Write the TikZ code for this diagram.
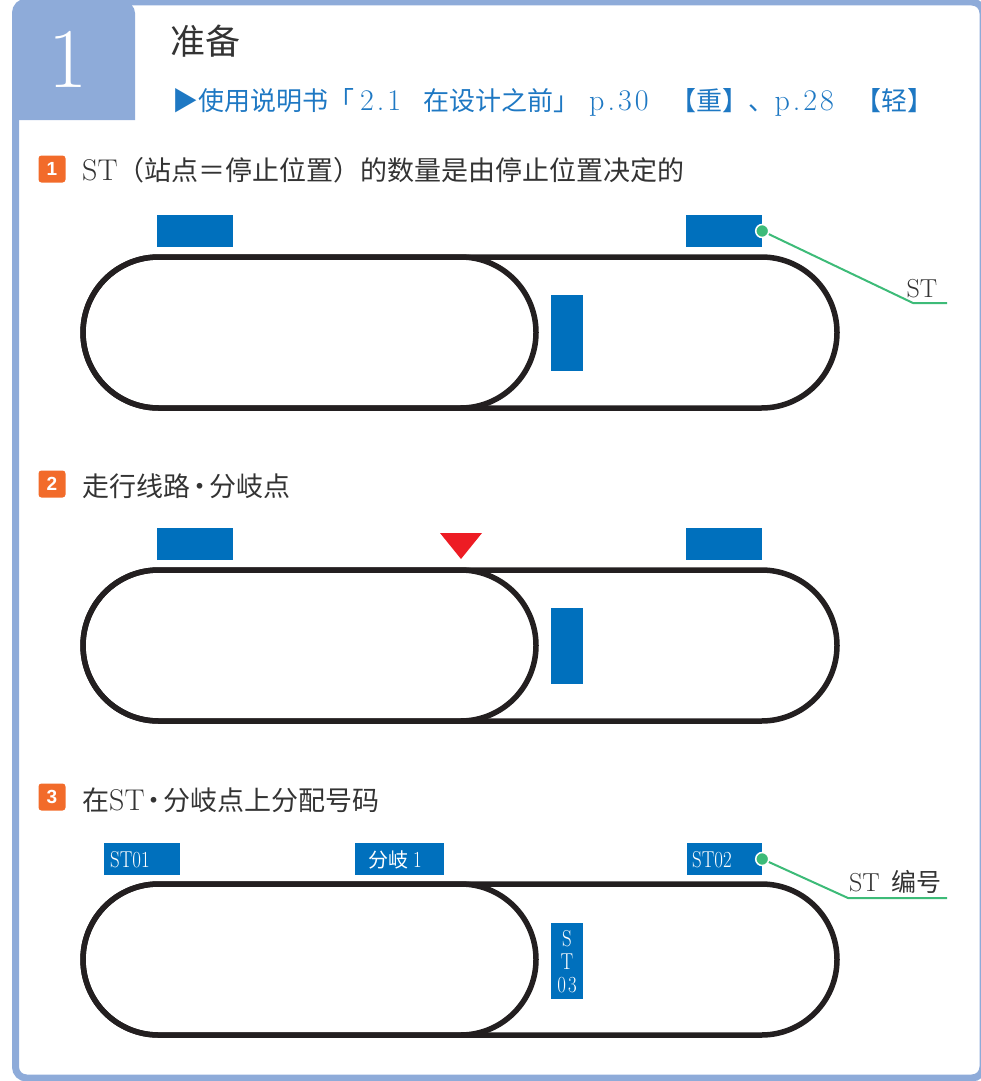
\documentclass[tikz,border=0pt]{standalone}
\usepackage{fontspec}
\newfontfamily\cjk{Noto Sans CJK SC}
\newfontfamily\lat{Latin Modern Roman}
\newfontfamily\cond[FakeStretch=0.82]{Latin Modern Roman}
\newfontfamily\sans{Liberation Sans}
\definecolor{frameblue}{HTML}{8EABD9}
\definecolor{stblue}{HTML}{0070BD}
\definecolor{linkblue}{HTML}{1E78C3}
\definecolor{badgeor}{HTML}{F26B2A}
\definecolor{leadgreen}{HTML}{3DBB78}
\definecolor{trackc}{HTML}{231F20}
\definecolor{txt}{HTML}{333333}
\definecolor{redtri}{HTML}{ED1C24}
\newcommand{\gp}[1]{\hspace{#1pt}}
\newcommand{\hl}[1]{{\lat\fontsize{30}{30}\selectfont #1}}
\newcommand{\md}{{\cjk\gp{-4}·\gp{-4}}}
\begin{document}
\begin{tikzpicture}[x=1pt,y=-1pt,
  track/.style={draw=trackc, line width=5.5},
  stbox/.style={fill=stblue, inner sep=0, draw=none},
  hbox/.style={stbox, minimum width=76, minimum height=32},
  vbox/.style={stbox, minimum width=32, minimum height=76},
  badge/.style={fill=badgeor, rounded corners=3, minimum size=27, inner sep=0, text=white, font=\sans\bfseries\fontsize{19}{19}\selectfont},
  head/.style={anchor=base west, inner sep=0, text=txt, font=\cjk\fontsize{27}{27}\selectfont},
  leader/.style={draw=leadgreen, line width=2},
  dot/.style={circle, fill=leadgreen, draw=white, line width=1.5, minimum size=13, inner sep=0},
  boxlabel/.style={anchor=base west, inner sep=0, text=white, font=\cond\fontsize{23}{23}\selectfont},
  lbl/.style={anchor=base, inner sep=0, text=txt, font=\lat\fontsize{26}{26}\selectfont},
]
\useasboundingbox (0,0) rectangle (980,1081);
% frame
\fill[frameblue] (15.5,120) {[rounded corners=11] -- (15.5,2) -- (135,2)} -- (135,120) -- cycle;
\draw[frameblue, line width=7, rounded corners=11] (15.5,2) rectangle (983,1078);
\node[text=white, inner sep=0, anchor=base, font=\lat\fontsize{85}{85}\selectfont] (num) at (68,88) {1};
\node[anchor=base west, inner sep=0, text=txt, font=\cjk\fontsize{35}{35}\selectfont] (title) at (170,55) {准备};
\node[anchor=base west, inner sep=0, text=linkblue, font=\lat\fontsize{30}{30}\selectfont] (link) at (172,110)
  {{\cjk\fontsize{26}{26}\selectfont ▶使用说明书「}\gp{6}2\gp{3}.\gp{3}1\gp{22}{\cjk\fontsize{26}{26}\selectfont 在设计之前」}\gp{10}p\gp{3}.\gp{3}3\gp{3}0\gp{22}{\cjk\fontsize{26}{26}\selectfont 【重】、}p\gp{3}.\gp{3}2\gp{3}8\gp{22}{\cjk\fontsize{26}{26}\selectfont 【轻】}};

% ---------- section 1
\node[badge] (bd1) at (52,169) {1};
\node[head] (h1) at (82,180) {\hl{ST}（站点＝停止位置）的数量是由停止位置决定的};
\draw[track] (158.5,257) -- (460.5,257) arc[start angle=-90, end angle=90, radius=75.5] -- (158.5,408) arc[start angle=90, end angle=270, radius=75.5] -- cycle;
\draw[track] (158.5,257) -- (761.5,257) arc[start angle=-90, end angle=90, radius=75.5] -- (158.5,408) arc[start angle=90, end angle=270, radius=75.5] -- cycle;
\node[hbox] (a1) at (195,231) {};
\node[hbox] (a2) at (724,231) {};
\node[vbox] (a3) at (567,333) {};
\coordinate (k1) at (913,303);
\coordinate (e1) at (947,303);
\draw[leader] (a2.east) -- (k1) -- (e1);
\node[dot] (d1) at (a2.east) {};
\node[lbl] (l1) at (922,297) {ST};

% ---------- section 2
\node[badge] (bd2) at (52,484) {2};
\node[head] (h2) at (82,496) {走行线路\md 分岐点};
\draw[track] (158.5,570) -- (460.5,570) arc[start angle=-90, end angle=90, radius=75.5] -- (158.5,721) arc[start angle=90, end angle=270, radius=75.5] -- cycle;
\draw[track] (158.5,570) -- (761.5,570) arc[start angle=-90, end angle=90, radius=75.5] -- (158.5,721) arc[start angle=90, end angle=270, radius=75.5] -- cycle;
\node[hbox] (b1) at (195,544) {};
\node[hbox] (b2) at (724,544) {};
\node[vbox] (b3) at (567,646) {};
\fill[redtri] (440,533) -- (482,533) -- (461,559) -- cycle;

% ---------- section 3
\node[badge] (bd3) at (52,797) {3};
\node[head] (h3) at (82,810) {在\hl{ST}\md 分岐点上分配号码};
\draw[track] (158.5,884) -- (460.5,884) arc[start angle=-90, end angle=90, radius=75.5] -- (158.5,1035) arc[start angle=90, end angle=270, radius=75.5] -- cycle;
\draw[track] (158.5,884) -- (761.5,884) arc[start angle=-90, end angle=90, radius=75.5] -- (158.5,1035) arc[start angle=90, end angle=270, radius=75.5] -- cycle;
\node[hbox] (c1) at (142,859) {};
\node[hbox, minimum width=89] (c2) at (399.5,859) {};
\node[hbox, minimum width=75] (c3) at (724.5,859) {};
\node[vbox] (c4) at (567,961) {};
\node[boxlabel] (t1) at (110,867) {ST01};
\node[boxlabel] (t2) at (368,867) {{\cjk\fontsize{20}{20}\selectfont 分岐}\gp{5}1};
\node[boxlabel] (t3) at (692,867) {ST02};
\node[inner sep=0, text=white, align=center, font=\cond\fontsize{23}{23}\selectfont] (t4) at (567,962) {S\\T\\0\hspace{2pt}3};
\coordinate (k3) at (848,898);
\coordinate (e3) at (947,898);
\draw[leader] (c3.east) -- (k3) -- (e3);
\node[dot] (d3) at (c3.east) {};
\node[anchor=base west, inner sep=0, text=txt, font=\lat\fontsize{26}{26}\selectfont] (l3) at (849,891) {ST\gp{12}{\cjk\fontsize{25}{25}\selectfont 编号}};
\end{tikzpicture}
\end{document}
